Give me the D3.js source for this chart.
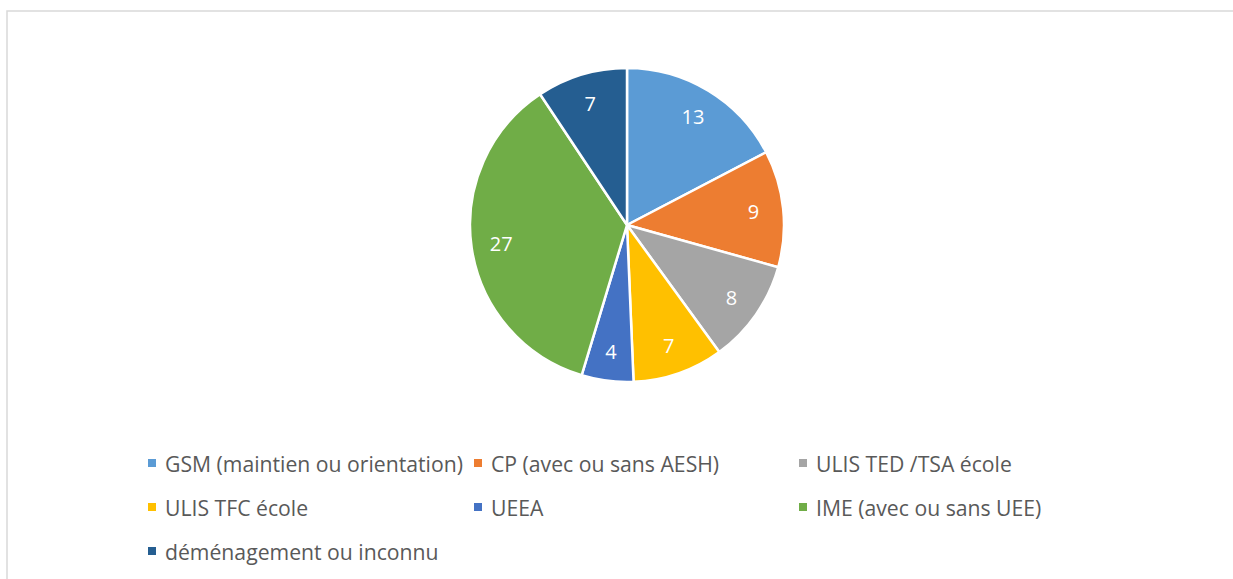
<!DOCTYPE html>
<html><head><meta charset="utf-8">
<script src="https://cdn.jsdelivr.net/npm/d3@7"></script>
<style>body{margin:0;background:#fff}svg{display:block}</style>
</head><body>
<script>
const categories = ["GSM (maintien ou orientation)","CP (avec ou sans AESH)","ULIS TED /TSA école","ULIS TFC école","UEEA","IME (avec ou sans UEE)","déménagement ou inconnu"];
const values = [13, 9, 8, 7, 4, 27, 7];
const colors = ["#5B9BD5","#ED7D31","#A5A5A5","#FFC000","#4472C4","#70AD47","#255E91"];

const W = 1233, H = 579;
const FONT = "'Open Sans', Lato, sans-serif";
const svg = d3.select("body").append("svg").attr("width", W).attr("height", H);

// border
svg.append("rect").attr("x", 7).attr("y", 11).attr("width", W + 20).attr("height", H + 20)
  .attr("fill", "none").attr("stroke", "#d9d9d9").attr("stroke-width", 1.5);

const cx = 627, cy = 225, R = 157;
const pie = d3.pie().sort(null).value(d => d);
const arcs = pie(values);
const arc = d3.arc().innerRadius(0).outerRadius(R);
const labelArc = d3.arc().innerRadius(R * 0.81).outerRadius(R * 0.81);
const g = svg.append("g").attr("transform", `translate(${cx},${cy})`);
g.selectAll("path").data(arcs).join("path")
  .attr("d", arc).attr("fill", (d, i) => colors[i])
  .attr("stroke", "#fff").attr("stroke-width", 2.5).attr("stroke-linejoin", "round");
g.selectAll("text").data(arcs).join("text")
  .attr("transform", d => `translate(${labelArc.centroid(d)})`)
  .attr("text-anchor", "middle").attr("dominant-baseline", "central")
  .attr("fill", "#fff").style("font-family", FONT).style("font-size", "20px")
  .text(d => d.data);

// legend font sizing: fit longest first label to measured width
const probe = svg.append("text").style("font-family", FONT).style("font-size", "100px").text(categories[0]);
const w100 = probe.node().getComputedTextLength();
probe.remove();
const fs = 100 * 298 / w100;

const colX = [148, 474, 799];
const rowY = [463, 507, 551];
const leg = svg.append("g");
categories.forEach((c, i) => {
  const col = i % 3, row = Math.floor(i / 3);
  const x = colX[col], y = rowY[row];
  leg.append("rect").attr("x", x).attr("y", y - 4).attr("width", 8).attr("height", 8).attr("fill", colors[i]);
  leg.append("text").attr("x", x + 17).attr("y", y).attr("dominant-baseline", "central")
    .attr("fill", "#595959").style("font-family", FONT).style("font-size", fs + "px").text(c);
});
</script>
</body></html>
